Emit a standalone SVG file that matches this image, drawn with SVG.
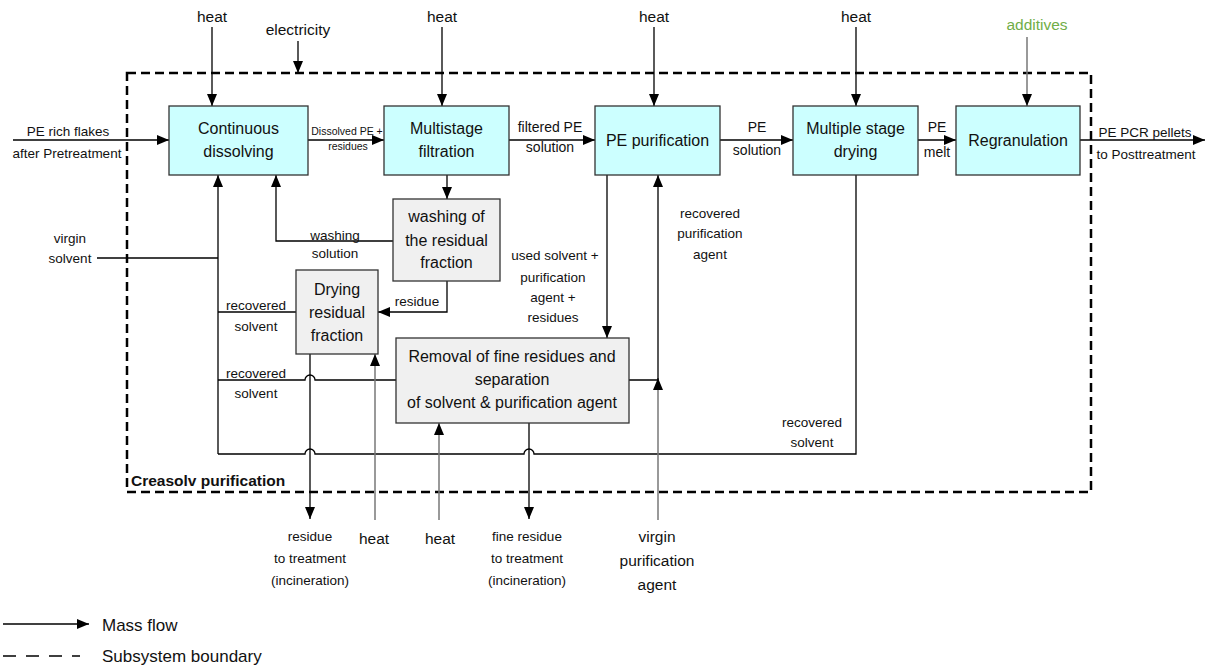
<svg xmlns="http://www.w3.org/2000/svg" width="1206" height="667" viewBox="0 0 1206 667">
<defs>
<marker id="ah" markerUnits="userSpaceOnUse" markerWidth="12" markerHeight="10" refX="12" refY="5" orient="auto" viewBox="0 0 12 10"><path d="M0,0 L12,5 L0,10 z" fill="#000"/></marker>
<style>
text{font-family:"Liberation Sans",Arial,sans-serif;fill:#111;text-anchor:middle}
.box{fill:#CCFFFF;stroke:#333;stroke-width:1.3}
.gbox{fill:#F0F0F0;stroke:#333;stroke-width:1.3}
.bt{font-size:16px}
.lbl{font-size:13.5px}
.top{font-size:15.5px}
.c{fill:none;stroke:#000;stroke-width:1.3}
.g{fill:none;stroke:#777;stroke-width:1.5}
.a{marker-end:url(#ah)}
.bnd{fill:none;stroke:#000;stroke-width:2.5;stroke-dasharray:9 5}
</style>
</defs>
<rect width="1206" height="667" fill="#fff"/>
<g id="boundary">
<rect class="bnd" x="127" y="73" width="964" height="419"/>
<text x="131" y="486" style="font-size:15.5px;font-weight:bold;text-anchor:start">Creasolv purification</text>
</g>
<g id="connectors">
<path class="c a" d="M212,27 V106"/>
<path class="c a" d="M298,41 V73"/>
<path class="c a" d="M442,27 V106"/>
<path class="c a" d="M654,27 V106"/>
<path class="c a" d="M856,27 V106"/>
<path class="g a" d="M1027,37 V106"/>
<path class="c a" d="M13,140 H169"/>
<path class="c a" d="M308,140 H384"/>
<path class="c a" d="M509,140 H595"/>
<path class="c a" d="M720,140 H793"/>
<path class="c a" d="M918,140 H956"/>
<path class="c a" d="M1080,140 H1205"/>
<path class="c a" d="M447,175 V199"/>
<path class="c a" d="M393,241 H276 V175"/>
<path class="c a" d="M447,281 V312 H378"/>
<path class="c" d="M296,312 H218"/>
<path class="c" d="M97,258 H218"/>
<path class="c a" d="M218,454 V175"/>
<path class="c" d="M396,380 H315 A5,5 0 0 0 305,380 H218"/>
<path class="c a" d="M310,354 V519"/>
<path class="c" d="M856,175 V454 H534 A5,5 0 0 0 524,454 H315 A5,5 0 0 0 305,454 H218"/>
<path class="c a" d="M607,175 V338"/>
<path class="c a" d="M529,423 V519"/>
<path class="g a" d="M375,520 V354"/>
<path class="g a" d="M439,520 V423"/>
<path class="g a" d="M658,520 V378"/>
<path class="c a" d="M629,380 H658 V175"/>
</g>
<g id="n-dissolving"><rect class="box" x="169" y="106" width="139" height="69"/><text class="bt" x="238.5" y="134">Continuous</text><text class="bt" x="238.5" y="157">dissolving</text></g>
<g id="n-filtration"><rect class="box" x="384" y="106" width="125" height="69"/><text class="bt" x="446.5" y="134">Multistage</text><text class="bt" x="446.5" y="157">filtration</text></g>
<g id="n-purification"><rect class="box" x="595" y="106" width="125" height="69"/><text class="bt" x="657.5" y="146">PE purification</text></g>
<g id="n-drying"><rect class="box" x="793" y="106" width="125" height="69"/><text class="bt" x="855.5" y="134">Multiple stage</text><text class="bt" x="855.5" y="157">drying</text></g>
<g id="n-regranulation"><rect class="box" x="956" y="106" width="124" height="69"/><text class="bt" x="1018" y="146">Regranulation</text></g>
<g id="n-washing"><rect class="gbox" x="393" y="199" width="107" height="82"/><text class="bt" x="446.5" y="222">washing of</text><text class="bt" x="446.5" y="246">the residual</text><text class="bt" x="446.5" y="268">fraction</text></g>
<g id="n-dryres"><rect class="gbox" x="296" y="270" width="82" height="84"/><text class="bt" x="337" y="295">Drying</text><text class="bt" x="337" y="318">residual</text><text class="bt" x="337" y="341">fraction</text></g>
<g id="n-removal"><rect class="gbox" x="396" y="338" width="233" height="85"/><text class="bt" x="512" y="362">Removal of fine residues and</text><text class="bt" x="512" y="385">separation</text><text class="bt" x="512" y="408">of solvent &amp; purification agent</text></g>
<g id="labels">
<text class="top" x="212" y="22">heat</text>
<text class="top" x="298" y="35">electricity</text>
<text class="top" x="442" y="22">heat</text>
<text class="top" x="654" y="22">heat</text>
<text class="top" x="856" y="22">heat</text>
<text class="top" x="1037" y="30" style="fill:#70AD47">additives</text>
<text class="lbl" x="68" y="136">PE rich flakes</text>
<text class="lbl" x="67" y="158">after Pretreatment</text>
<text x="347" y="135" style="font-size:10.5px">Dissolved PE +</text>
<text x="348" y="150" style="font-size:10.5px">residues</text>
<text x="550" y="132" style="font-size:14px">filtered PE</text>
<text x="550" y="152" style="font-size:14px">solution</text>
<text x="757" y="132" style="font-size:14px">PE</text>
<text x="757" y="155" style="font-size:14px">solution</text>
<text x="937" y="132" style="font-size:14px">PE</text>
<text x="937" y="157" style="font-size:14px">melt</text>
<text class="lbl" x="1145" y="137">PE PCR pellets</text>
<text class="lbl" x="1146" y="159">to Posttreatment</text>
<text class="lbl" x="70" y="243">virgin</text>
<text class="lbl" x="70" y="263">solvent</text>
<text class="lbl" x="335" y="240">washing</text>
<text class="lbl" x="335" y="258">solution</text>
<text class="lbl" x="256" y="310">recovered</text>
<text class="lbl" x="256" y="331">solvent</text>
<text class="lbl" x="256" y="378">recovered</text>
<text class="lbl" x="256" y="398">solvent</text>
<text class="lbl" x="417" y="306">residue</text>
<text class="lbl" x="555" y="260">used solvent  +</text>
<text class="lbl" x="553" y="282">purification</text>
<text class="lbl" x="553" y="302">agent  +</text>
<text class="lbl" x="553" y="322">residues</text>
<text class="lbl" x="710" y="218">recovered</text>
<text class="lbl" x="710" y="238">purification</text>
<text class="lbl" x="710" y="259">agent</text>
<text class="lbl" x="812" y="427">recovered</text>
<text class="lbl" x="812" y="447">solvent</text>
<text class="lbl" x="310" y="541">residue</text>
<text class="lbl" x="310" y="563">to treatment</text>
<text class="lbl" x="310" y="585">(incineration)</text>
<text class="top" x="374" y="544">heat</text>
<text class="top" x="440" y="544">heat</text>
<text class="lbl" x="527" y="541">fine residue</text>
<text class="lbl" x="527" y="563">to treatment</text>
<text class="lbl" x="527" y="585">(incineration)</text>
<text class="top" x="657" y="542">virgin</text>
<text class="top" x="657" y="566">purification</text>
<text class="top" x="657" y="590">agent</text>
</g>
<g id="legend">
<path class="c a" d="M3,624 H89"/>
<text x="102" y="631" style="font-size:17px;text-anchor:start">Mass flow</text>
<path d="M3,656 H80" style="fill:none;stroke:#000;stroke-width:1.5;stroke-dasharray:13 10"/>
<text x="102" y="662" style="font-size:17px;text-anchor:start">Subsystem boundary</text>
</g>
</svg>
